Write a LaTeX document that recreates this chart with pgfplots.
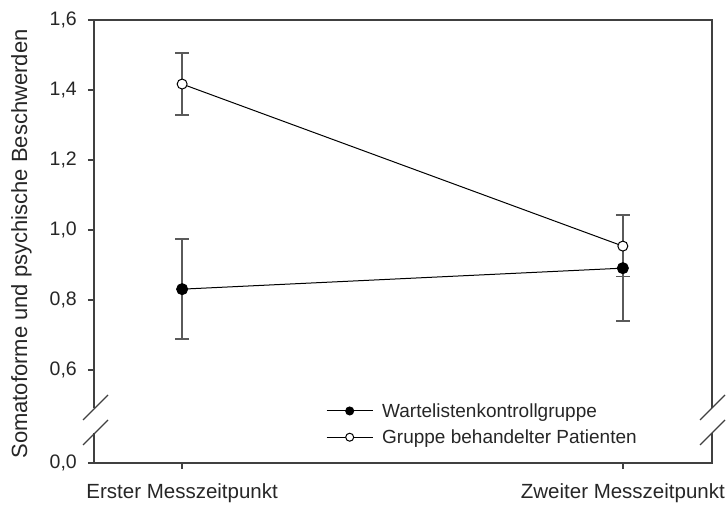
\documentclass[border=0pt]{standalone}
\usepackage{pgfplots}
\pgfplotsset{compat=1.18}
\usepackage{fontspec}
\setmainfont{Liberation Sans}
\definecolor{axisgray}{HTML}{404040}
\definecolor{errgray}{HTML}{5A5A5A}
\begin{document}
\begin{tikzpicture}
\begin{axis}[
  scale only axis, width=618bp, height=443bp,
  xmin=-0.2, xmax=1.2023, ymin=0.33429, ymax=1.6,
  clip=false,
  axis line style={axisgray, line width=1.5bp},
  tick style={axisgray, line width=1.5bp},
  major tick length=6bp,
  tick align=outside,
  xtick pos=left, ytick pos=left,
  xtick={0,1}, xticklabels={Erster Messzeitpunkt, Zweiter Messzeitpunkt},
  ytick={0.33429,0.6,0.8,1.0,1.2,1.4,1.6},
  yticklabels={{0,0},{0,6},{0,8},{1,0},{1,2},{1,4},{1,6}},
  /pgf/number format/assume math mode=true,
  xticklabel shift=14bp, yticklabel shift=11bp,
  xticklabel style={font=\fontsize{20.5bp}{24bp}\selectfont, text=black!85, inner sep=0pt},
  yticklabel style={font=\fontsize{19.5bp}{23bp}\selectfont, text=black!85, inner sep=0pt},
  legend style={draw=none, fill=none, at={(0.3754,0.036)}, anchor=south west,
    font=\fontsize{19bp}{23bp}\selectfont, text=black!85,
    row sep=7bp, column sep=7bp, inner sep=0pt, nodes={inner sep=2bp}},
  legend cell align=left,
  legend image code/.code={\draw[mark repeat=2,mark phase=2,#1,mark size=4bp] plot coordinates {(0bp,0bp) (23bp,0bp) (46bp,0bp)};},
]
\addplot[black, line width=1bp, mark=*, mark size=5.5bp, mark options={fill=black, draw=black},
  error bars/.cd, y dir=both, y explicit,
  error bar style={errgray, line width=1.6bp},
  error mark options={rotate=90, mark size=7bp, errgray, line width=1.6bp}]
  coordinates {(0,0.831) +- (0,0.143) (1,0.891) +- (0,0.151)};
\addplot[black, line width=1bp, mark=*, mark size=5bp, mark options={fill=white, draw=black, line width=1bp},
  error bars/.cd, y dir=both, y explicit,
  error bar style={errgray, line width=1.6bp},
  error mark options={rotate=90, mark size=7bp, errgray, line width=1.6bp}]
  coordinates {(0,1.417) +- (0,0.088) (1,0.954) +- (0,0.087)};
\legend{Wartelistenkontrollgruppe, Gruppe behandelter Patienten}
\end{axis}
\fill[white] (-2bp,30bp) rectangle (2bp,55bp);
\fill[white] (616bp,30bp) rectangle (620bp,55bp);
\draw[axisgray, line width=1.3bp] (-11bp,43bp) -- (14bp,68bp);
\draw[axisgray, line width=1.3bp] (-11bp,18bp) -- (14bp,43bp);
\draw[axisgray, line width=1.3bp] (606bp,43bp) -- (631bp,68bp);
\draw[axisgray, line width=1.3bp] (606bp,18bp) -- (631bp,43bp);
\node[rotate=90, anchor=north, inner sep=0pt, text=black!85, font=\fontsize{22bp}{26bp}\selectfont] at (-83bp,219bp) {Somatoforme und psychische Beschwerden};
\pgfresetboundingbox
\path (-94bp,-45bp) rectangle (634bp,463bp);
\end{tikzpicture}
\end{document}
